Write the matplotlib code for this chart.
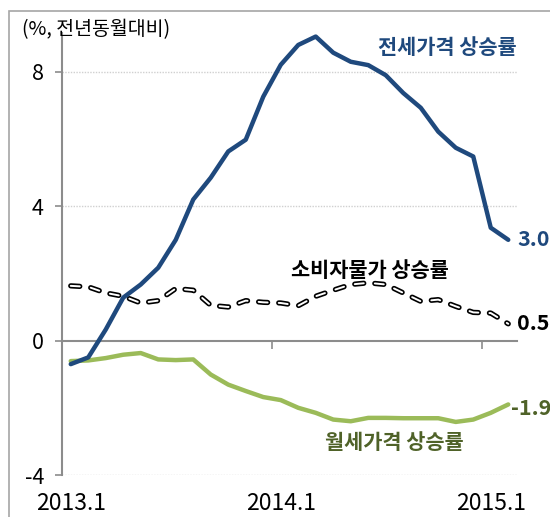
import numpy as np
import matplotlib
matplotlib.use('Agg')
import matplotlib.pyplot as plt
from matplotlib.patches import Rectangle

# 한글 폰트 지정
plt.rcParams['font.family'] = ['Noto Sans CJK KR', 'DejaVu Sans']
plt.rcParams['axes.unicode_minus'] = False
plt.rcParams['lines.scale_dashes'] = False

# 월별 데이터 (2013.1 ~ 2015.2, 전년동월대비 %)
months = ['2013.1', '2013.2', '2013.3', '2013.4', '2013.5', '2013.6', '2013.7',
          '2013.8', '2013.9', '2013.10', '2013.11', '2013.12',
          '2014.1', '2014.2', '2014.3', '2014.4', '2014.5', '2014.6', '2014.7',
          '2014.8', '2014.9', '2014.10', '2014.11', '2014.12',
          '2015.1', '2015.2']
jeonse = [-0.7, -0.5, 0.33, 1.28, 1.67, 2.17, 3.0, 4.2, 4.85, 5.63, 5.98, 7.26,
          8.21, 8.8, 9.05, 8.57, 8.3, 8.2, 7.9, 7.37, 6.93, 6.22, 5.74, 5.48,
          3.36, 3.0]
cpi = [1.63, 1.6, 1.42, 1.32, 1.12, 1.19, 1.55, 1.5, 1.05, 1.0, 1.19, 1.14,
       1.12, 1.04, 1.32, 1.5, 1.67, 1.72, 1.67, 1.42, 1.17, 1.22, 1.02, 0.84,
       0.82, 0.5]
wolse = [-0.61, -0.59, -0.52, -0.42, -0.37, -0.56, -0.58, -0.56, -1.01, -1.31,
         -1.5, -1.68, -1.77, -2.0, -2.15, -2.35, -2.4, -2.3, -2.3, -2.31, -2.31,
         -2.31, -2.42, -2.35, -2.15, -1.9]
tick_labels = ['2013.1', '2014.1', '2015.1']
yticks = [-4, 0, 4, 8]

blue = '#1F497D'
green = '#9BBB59'
green_txt = '#4F6228'
gray = '#8C8C8C'

x = np.arange(len(months))

fig = plt.figure(figsize=(5.5, 5.17), dpi=100)
ax = fig.add_axes([62/550, 42/517, 455/550, 441.8/517])

# 바깥 테두리
fig.patches.append(Rectangle((9/550, -0.05), 1.2, 1.05 - 11/517, transform=fig.transFigure,
                             fill=False, edgecolor='#A6A6A6', lw=1.2))

# 점선 그리드
for v in yticks:
    if v != 0:
        ax.axhline(v, color='#D0D0D0', lw=1, ls=(0, (1, 1)), zorder=0)

# 선 그리기
ax.plot(x, wolse, color=green, lw=3.2, solid_joinstyle='round', solid_capstyle='round', zorder=3)
ax.plot(x, cpi, color='black', lw=3.8, ls=(0, (6.5, 8)), dash_capstyle='round', zorder=4)
ax.plot(x, cpi, color='white', lw=1.4, ls=(0, (6.5, 8)), dash_capstyle='round', zorder=5)
ax.plot(x, jeonse, color=blue, lw=3.2, solid_joinstyle='round', solid_capstyle='round', zorder=6)

ax.set_xlim(-0.5, len(months) - 0.5)
ax.set_ylim(-4, 9.15)

# 축 설정
for s in ['top', 'right']:
    ax.spines[s].set_visible(False)
ax.spines['left'].set_color(gray)
ax.spines['left'].set_linewidth(1.5)
ax.spines['bottom'].set_position(('data', 0))
ax.spines['bottom'].set_color(gray)
ax.spines['bottom'].set_linewidth(1.5)
ax.set_yticks(yticks)
ax.set_yticklabels([str(v) for v in yticks], fontsize=15.5)
ax.tick_params(axis='y', direction='out', length=5, width=1.2, color=gray, pad=8)
ax.set_xticks([12 - 0.5, 24 - 0.5])
ax.set_xticklabels([])
ax.tick_params(axis='x', direction='out', length=6, width=1.2, color=gray)

for lab in tick_labels:
    ax.text(months.index(lab), -4.85, lab, ha='center', va='center', fontsize=16.5, clip_on=False)

# 끝값 표시
ax.annotate(f'{jeonse[-1]:.1f}', (x[-1], jeonse[-1]), xytext=(6.5, 0), textcoords='offset points',
            ha='left', va='center', fontsize=15.5, fontweight='bold', color=blue)
ax.annotate(f'{cpi[-1]:.1f}', (x[-1], cpi[-1]), xytext=(6.5, 0), textcoords='offset points',
            ha='left', va='center', fontsize=15.5, fontweight='bold', color='black')
ax.annotate(f'{wolse[-1]:.1f}', (x[-1], wolse[-1]), xytext=(2, -3), textcoords='offset points',
            ha='left', va='center', fontsize=15.5, fontweight='bold', color=green_txt)

# 계열 이름
ax.text(21.5, 8.72, '전세가격 상승률', ha='center', va='center', fontsize=15, fontweight='bold', color=blue)
ax.text(17.1, 2.08, '소비자물가 상승률', ha='center', va='center', fontsize=15, fontweight='bold', color='black')
ax.text(18.47, -3.04, '월세가격 상승률', ha='center', va='center', fontsize=15, fontweight='bold', color=green_txt)

fig.text(22/550, 1 - 30/517, '(%, 전년동월대비)', ha='left', va='center', fontsize=14)

fig.savefig('out.png', dpi=100)
